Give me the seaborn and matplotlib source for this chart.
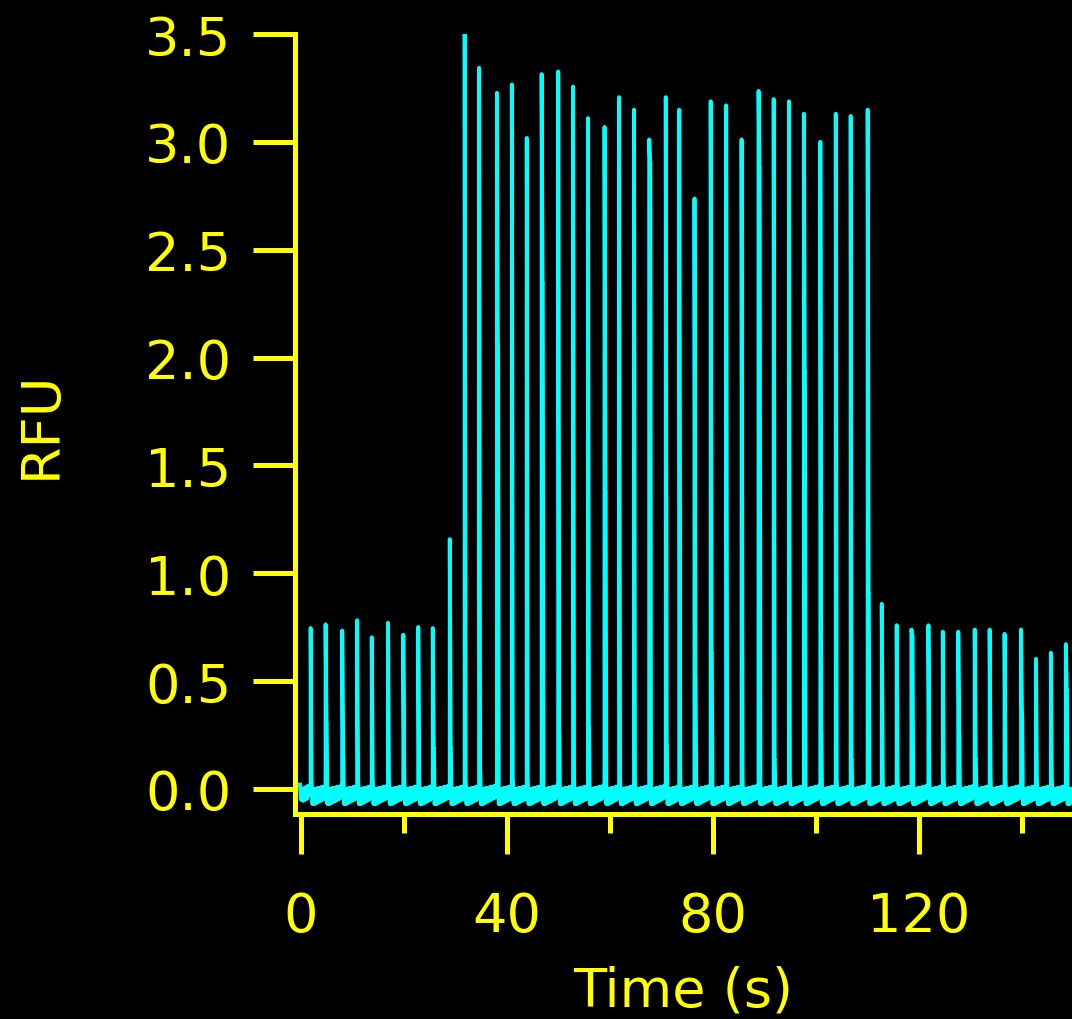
import matplotlib
matplotlib.use("Agg")
import matplotlib.pyplot as plt
import seaborn as sns
from matplotlib.ticker import MultipleLocator

# spike times (s), peak heights and shoulder level just after each peak (RFU)
spike_t = [1.87, 4.77, 8.0, 10.9, 13.74, 16.9, 19.87, 22.77, 25.6, 28.9,
           31.8, 34.6, 38.07, 40.96, 43.86, 46.75, 49.97, 52.86, 55.75, 58.97,
           61.8, 64.7, 67.65, 70.87, 73.49, 76.45, 79.6, 82.6, 85.6, 88.9,
           91.84, 94.8, 97.7, 100.9, 103.9, 106.8, 110.1, 112.84, 115.74, 118.6,
           121.9, 124.7, 127.7, 130.9, 133.8, 136.7, 139.9, 142.8, 145.7, 148.6]
spike_peak = [0.746, 0.763, 0.734, 0.782, 0.703, 0.770, 0.715, 0.751, 0.746, 1.158,
              3.508, 3.343, 3.227, 3.266, 3.018, 3.314, 3.326, 3.256, 3.110, 3.069,
              3.207, 3.149, 3.011, 3.207, 3.149, 2.737, 3.188, 3.169, 3.011, 3.236,
              3.198, 3.188, 3.130, 3.000, 3.130, 3.120, 3.149, 0.858, 0.759, 0.739,
              0.759, 0.729, 0.729, 0.739, 0.739, 0.719, 0.739, 0.603, 0.631, 0.671]
spike_shoulder = [0.05, 0.30, 0.145, 0.05, 0.05, 0.05, 0.05, 0.05, 0.187, 0.187,
                  0.05, 0.085, 2.059, 0.05, 0.05, 2.343, 0.266, 0.05, 0.286, 1.376,
                  0.05, 0.05, 2.905, 0.20, 0.05, 0.509, 0.63, 0.05, 0.05, 2.883,
                  0.133, 0.05, 1.933, 0.266, 0.05, 0.133, 0.907, 0.05, 0.05, 0.709,
                  0.05, 0.05, 0.247, 0.139, 0.05, 0.05, 0.348, 0.05, 0.05, 0.456]

# noisy baseline between spikes: offset after spike (s) and level (RFU)
base_dt = [0.35, 0.55, 0.75, 0.95, 1.15, 1.35, 1.55, 1.75, 1.95, 2.15, 2.35,
           2.55, 2.75, 2.95, 3.15]
base_y = [-0.07, 0.0, -0.07, 0.0, -0.065, 0.005, -0.06, 0.005, -0.055, 0.01,
          -0.05, 0.01, -0.045, 0.015, -0.04]

# trace start, before the first spike
start_t = [-0.2, 0.0, 0.2, 0.4, 0.6, 0.8, 1.0, 1.2, 1.4, 1.6]
start_y = [0.02, -0.05, 0.0, -0.055, 0.005, -0.05, 0.01, -0.045, 0.015, -0.03]

trace_t = list(start_t)
trace_y = list(start_y)
next_t = spike_t[1:] + [149.8]
for t, pk, sh, tn in zip(spike_t, spike_peak, spike_shoulder, next_t):
    trace_t += [t, t, t + 0.18, t + 0.22]
    trace_y += [0.02, pk, sh, sh if sh > 0.05 else 0.03]
    for dt, b in zip(base_dt, base_y):
        if t + dt < tn - 0.1:
            trace_t.append(t + dt)
            trace_y.append(b)

yellow = "#ffff00"
cyan = "#00ffff"

plt.rcParams["font.family"] = ["DejaVu Sans"]
fig = plt.figure(figsize=(10.72, 10.2), dpi=100, facecolor="black")
ax = fig.add_axes([0.2752, 0.201, 0.7248, 0.7647])
ax.set_facecolor("black")

sns.lineplot(x=trace_t, y=trace_y, ax=ax, color=cyan, linewidth=2.8,
             estimator=None, sort=False)

ax.set_xlim(-1.17, 149.8)
ax.set_ylim(-0.116, 3.5)

ax.xaxis.set_major_locator(MultipleLocator(40))
ax.xaxis.set_minor_locator(MultipleLocator(20))
ax.yaxis.set_major_locator(MultipleLocator(0.5))
ax.set_yticklabels([f"{v:.1f}" for v in ax.get_yticks()])

for s in ["top", "right"]:
    ax.spines[s].set_visible(False)
for s in ["left", "bottom"]:
    ax.spines[s].set_color(yellow)
    ax.spines[s].set_linewidth(3.6)

ax.tick_params(axis="both", which="both", colors=yellow, width=3.6,
               direction="out", labelsize=39)
ax.tick_params(axis="y", length=30, pad=16)
ax.tick_params(axis="x", which="major", length=29, pad=26)
ax.tick_params(axis="x", which="minor", length=14)

ax.set_xlabel("Time (s)", color=yellow, fontsize=39, labelpad=16)
ax.set_ylabel("RFU", color=yellow, fontsize=39, labelpad=56)

fig.savefig("out.png", dpi=100, facecolor="black")
